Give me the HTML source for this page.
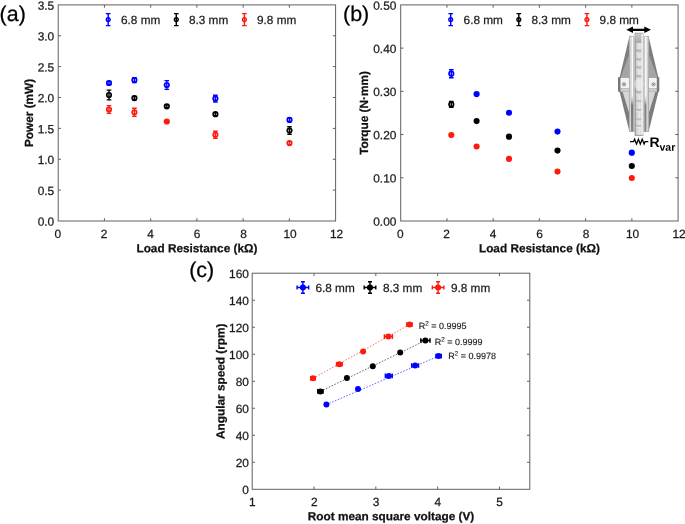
<!DOCTYPE html>
<html><head><meta charset="utf-8"><title>figure</title>
<style>
html,body{margin:0;padding:0;background:#fff;}
svg{display:block;will-change:transform;font-family:"Liberation Sans",Arial,Helvetica,sans-serif;}
</style></head><body>
<svg width="685" height="524" viewBox="0 0 685 524">
<rect width="685" height="524" fill="#ffffff"/>
<rect x="58.2" y="4.9" width="277.40000000000003" height="216.1" fill="none" stroke="#606060" stroke-width="1.0"/>
<path d="M104.43 221.0v-2.8M104.43 4.9v2.8M150.67 221.0v-2.8M150.67 4.9v2.8M196.90 221.0v-2.8M196.90 4.9v2.8M243.13 221.0v-2.8M243.13 4.9v2.8M289.37 221.0v-2.8M289.37 4.9v2.8M58.2 35.77h2.8M335.6 35.77h-2.8M58.2 66.64h2.8M335.6 66.64h-2.8M58.2 97.51h2.8M335.6 97.51h-2.8M58.2 128.39h2.8M335.6 128.39h-2.8M58.2 159.26h2.8M335.6 159.26h-2.8M58.2 190.13h2.8M335.6 190.13h-2.8" stroke="#606060" stroke-width="1.0" fill="none"/>
<text x="54.20" y="9.70" transform="rotate(0.03 54.20 9.70)" font-size="11.9" text-anchor="end" font-weight="normal" fill="#1c1c1c" stroke="#1c1c1c" stroke-width="0.25" >3.5</text>
<text x="54.20" y="40.57" transform="rotate(0.03 54.20 40.57)" font-size="11.9" text-anchor="end" font-weight="normal" fill="#1c1c1c" stroke="#1c1c1c" stroke-width="0.25" >3.0</text>
<text x="54.20" y="71.44" transform="rotate(0.03 54.20 71.44)" font-size="11.9" text-anchor="end" font-weight="normal" fill="#1c1c1c" stroke="#1c1c1c" stroke-width="0.25" >2.5</text>
<text x="54.20" y="102.31" transform="rotate(0.03 54.20 102.31)" font-size="11.9" text-anchor="end" font-weight="normal" fill="#1c1c1c" stroke="#1c1c1c" stroke-width="0.25" >2.0</text>
<text x="54.20" y="133.19" transform="rotate(0.03 54.20 133.19)" font-size="11.9" text-anchor="end" font-weight="normal" fill="#1c1c1c" stroke="#1c1c1c" stroke-width="0.25" >1.5</text>
<text x="54.20" y="164.06" transform="rotate(0.03 54.20 164.06)" font-size="11.9" text-anchor="end" font-weight="normal" fill="#1c1c1c" stroke="#1c1c1c" stroke-width="0.25" >1.0</text>
<text x="54.20" y="194.93" transform="rotate(0.03 54.20 194.93)" font-size="11.9" text-anchor="end" font-weight="normal" fill="#1c1c1c" stroke="#1c1c1c" stroke-width="0.25" >0.5</text>
<text x="54.20" y="225.80" transform="rotate(0.03 54.20 225.80)" font-size="11.9" text-anchor="end" font-weight="normal" fill="#1c1c1c" stroke="#1c1c1c" stroke-width="0.25" >0.0</text>
<text x="57.70" y="238.00" transform="rotate(0.03 57.70 238.00)" font-size="11.9" text-anchor="middle" font-weight="normal" fill="#1c1c1c" stroke="#1c1c1c" stroke-width="0.25" >0</text>
<text x="104.17" y="238.00" transform="rotate(0.03 104.17 238.00)" font-size="11.9" text-anchor="middle" font-weight="normal" fill="#1c1c1c" stroke="#1c1c1c" stroke-width="0.25" >2</text>
<text x="150.65" y="238.00" transform="rotate(0.03 150.65 238.00)" font-size="11.9" text-anchor="middle" font-weight="normal" fill="#1c1c1c" stroke="#1c1c1c" stroke-width="0.25" >4</text>
<text x="197.12" y="238.00" transform="rotate(0.03 197.12 238.00)" font-size="11.9" text-anchor="middle" font-weight="normal" fill="#1c1c1c" stroke="#1c1c1c" stroke-width="0.25" >6</text>
<text x="243.59" y="238.00" transform="rotate(0.03 243.59 238.00)" font-size="11.9" text-anchor="middle" font-weight="normal" fill="#1c1c1c" stroke="#1c1c1c" stroke-width="0.25" >8</text>
<text x="290.07" y="238.00" transform="rotate(0.03 290.07 238.00)" font-size="11.9" text-anchor="middle" font-weight="normal" fill="#1c1c1c" stroke="#1c1c1c" stroke-width="0.25" >10</text>
<text x="336.54" y="238.00" transform="rotate(0.03 336.54 238.00)" font-size="11.9" text-anchor="middle" font-weight="normal" fill="#1c1c1c" stroke="#1c1c1c" stroke-width="0.25" >12</text>
<text x="196.90" y="252.30" transform="rotate(0.03 196.90 252.30)" font-size="11.8" text-anchor="middle" font-weight="bold" fill="#111" stroke="#111" stroke-width="0.25" >Load Resistance (kΩ)</text>
<text transform="translate(33.00 112.95) rotate(-89.97)" font-size="11.8" text-anchor="middle" font-weight="bold" fill="#111" stroke="#111" stroke-width="0.25">Power (mW)</text>
<text x="-0.40" y="21.00" transform="rotate(0.03 -0.40 21.00)" font-size="21.4" text-anchor="start" font-weight="normal" fill="#000" stroke="#000" stroke-width="0.25" >(a)</text>
<path d="M108.20 13.60V25.60M105.90 13.60h4.6M105.90 25.60h4.6" stroke="#0000ff" stroke-width="1.45" fill="none"/>
<circle cx="108.20" cy="19.60" r="1.90" fill="none" stroke="#0000ff" stroke-width="1.4"/>
<text x="121.00" y="24.00" transform="rotate(0.03 121.00 24.00)" font-size="11.8" text-anchor="start" font-weight="normal" fill="#1c1c1c" stroke="#1c1c1c" stroke-width="0.25" >6.8 mm</text>
<path d="M176.30 13.60V25.60M174.00 13.60h4.6M174.00 25.60h4.6" stroke="#000000" stroke-width="1.45" fill="none"/>
<circle cx="176.30" cy="19.60" r="1.90" fill="none" stroke="#000000" stroke-width="1.4"/>
<text x="188.90" y="24.00" transform="rotate(0.03 188.90 24.00)" font-size="11.8" text-anchor="start" font-weight="normal" fill="#1c1c1c" stroke="#1c1c1c" stroke-width="0.25" >8.3 mm</text>
<path d="M244.40 13.60V25.60M242.10 13.60h4.6M242.10 25.60h4.6" stroke="#ff1a10" stroke-width="1.45" fill="none"/>
<circle cx="244.40" cy="19.60" r="1.90" fill="none" stroke="#ff1a10" stroke-width="1.4"/>
<text x="257.00" y="24.00" transform="rotate(0.03 257.00 24.00)" font-size="11.8" text-anchor="start" font-weight="normal" fill="#1c1c1c" stroke="#1c1c1c" stroke-width="0.25" >9.8 mm</text>
<path d="M109.00 81.50V84.50M106.70 81.50h4.6M106.70 84.50h4.6" stroke="#0000ff" stroke-width="1.4" fill="none"/>
<circle cx="109.00" cy="83.00" r="2.25" fill="none" stroke="#0000ff" stroke-width="1.7"/>
<path d="M134.40 77.60V82.60M132.10 77.60h4.6M132.10 82.60h4.6" stroke="#0000ff" stroke-width="1.4" fill="none"/>
<circle cx="134.40" cy="80.10" r="2.25" fill="none" stroke="#0000ff" stroke-width="1.7"/>
<path d="M166.80 80.60V89.40M164.50 80.60h4.6M164.50 89.40h4.6" stroke="#0000ff" stroke-width="1.4" fill="none"/>
<circle cx="166.80" cy="85.00" r="2.25" fill="none" stroke="#0000ff" stroke-width="1.7"/>
<path d="M215.40 95.20V102.00M213.10 95.20h4.6M213.10 102.00h4.6" stroke="#0000ff" stroke-width="1.4" fill="none"/>
<circle cx="215.40" cy="98.60" r="2.25" fill="none" stroke="#0000ff" stroke-width="1.7"/>
<path d="M289.50 118.30V121.50M287.20 118.30h4.6M287.20 121.50h4.6" stroke="#0000ff" stroke-width="1.4" fill="none"/>
<circle cx="289.50" cy="119.90" r="2.25" fill="none" stroke="#0000ff" stroke-width="1.7"/>
<path d="M109.00 90.10V99.90M106.70 90.10h4.6M106.70 99.90h4.6" stroke="#000000" stroke-width="1.4" fill="none"/>
<circle cx="109.00" cy="95.00" r="2.25" fill="none" stroke="#000000" stroke-width="1.7"/>
<path d="M134.40 96.50V99.70M132.10 96.50h4.6M132.10 99.70h4.6" stroke="#000000" stroke-width="1.4" fill="none"/>
<circle cx="134.40" cy="98.10" r="2.25" fill="none" stroke="#000000" stroke-width="1.7"/>
<path d="M166.80 104.80V107.80M164.50 104.80h4.6M164.50 107.80h4.6" stroke="#000000" stroke-width="1.4" fill="none"/>
<circle cx="166.80" cy="106.30" r="2.25" fill="none" stroke="#000000" stroke-width="1.7"/>
<path d="M215.40 112.70V115.70M213.10 112.70h4.6M213.10 115.70h4.6" stroke="#000000" stroke-width="1.4" fill="none"/>
<circle cx="215.40" cy="114.20" r="2.25" fill="none" stroke="#000000" stroke-width="1.7"/>
<path d="M289.50 126.80V134.40M287.20 126.80h4.6M287.20 134.40h4.6" stroke="#000000" stroke-width="1.4" fill="none"/>
<circle cx="289.50" cy="130.60" r="2.25" fill="none" stroke="#000000" stroke-width="1.7"/>
<path d="M109.00 105.60V113.40M106.70 105.60h4.6M106.70 113.40h4.6" stroke="#ff1a10" stroke-width="1.4" fill="none"/>
<circle cx="109.00" cy="109.50" r="2.25" fill="none" stroke="#ff1a10" stroke-width="1.7"/>
<path d="M134.40 108.20V116.40M132.10 108.20h4.6M132.10 116.40h4.6" stroke="#ff1a10" stroke-width="1.4" fill="none"/>
<circle cx="134.40" cy="112.30" r="2.25" fill="none" stroke="#ff1a10" stroke-width="1.7"/>
<circle cx="166.80" cy="121.50" r="3.10" fill="#ff1a10"/>
<path d="M215.40 131.20V138.40M213.10 131.20h4.6M213.10 138.40h4.6" stroke="#ff1a10" stroke-width="1.4" fill="none"/>
<circle cx="215.40" cy="134.80" r="2.25" fill="none" stroke="#ff1a10" stroke-width="1.7"/>
<path d="M289.50 141.60V144.60M287.20 141.60h4.6M287.20 144.60h4.6" stroke="#ff1a10" stroke-width="1.4" fill="none"/>
<circle cx="289.50" cy="143.10" r="2.25" fill="none" stroke="#ff1a10" stroke-width="1.7"/>
<rect x="400.7" y="4.9" width="277.40000000000003" height="216.1" fill="none" stroke="#606060" stroke-width="1.0"/>
<path d="M446.93 221.0v-2.8M446.93 4.9v2.8M493.17 221.0v-2.8M493.17 4.9v2.8M539.40 221.0v-2.8M539.40 4.9v2.8M585.63 221.0v-2.8M585.63 4.9v2.8M631.87 221.0v-2.8M631.87 4.9v2.8M400.7 48.12h2.8M678.1 48.12h-2.8M400.7 91.34h2.8M678.1 91.34h-2.8M400.7 134.56h2.8M678.1 134.56h-2.8M400.7 177.78h2.8M678.1 177.78h-2.8" stroke="#606060" stroke-width="1.0" fill="none"/>
<text x="396.40" y="9.70" transform="rotate(0.03 396.40 9.70)" font-size="11.9" text-anchor="end" font-weight="normal" fill="#1c1c1c" stroke="#1c1c1c" stroke-width="0.25" >0.50</text>
<text x="396.40" y="52.92" transform="rotate(0.03 396.40 52.92)" font-size="11.9" text-anchor="end" font-weight="normal" fill="#1c1c1c" stroke="#1c1c1c" stroke-width="0.25" >0.40</text>
<text x="396.40" y="96.14" transform="rotate(0.03 396.40 96.14)" font-size="11.9" text-anchor="end" font-weight="normal" fill="#1c1c1c" stroke="#1c1c1c" stroke-width="0.25" >0.30</text>
<text x="396.40" y="139.36" transform="rotate(0.03 396.40 139.36)" font-size="11.9" text-anchor="end" font-weight="normal" fill="#1c1c1c" stroke="#1c1c1c" stroke-width="0.25" >0.20</text>
<text x="396.40" y="182.58" transform="rotate(0.03 396.40 182.58)" font-size="11.9" text-anchor="end" font-weight="normal" fill="#1c1c1c" stroke="#1c1c1c" stroke-width="0.25" >0.10</text>
<text x="396.40" y="225.80" transform="rotate(0.03 396.40 225.80)" font-size="11.9" text-anchor="end" font-weight="normal" fill="#1c1c1c" stroke="#1c1c1c" stroke-width="0.25" >0.00</text>
<text x="400.20" y="238.00" transform="rotate(0.03 400.20 238.00)" font-size="11.9" text-anchor="middle" font-weight="normal" fill="#1c1c1c" stroke="#1c1c1c" stroke-width="0.25" >0</text>
<text x="446.67" y="238.00" transform="rotate(0.03 446.67 238.00)" font-size="11.9" text-anchor="middle" font-weight="normal" fill="#1c1c1c" stroke="#1c1c1c" stroke-width="0.25" >2</text>
<text x="493.15" y="238.00" transform="rotate(0.03 493.15 238.00)" font-size="11.9" text-anchor="middle" font-weight="normal" fill="#1c1c1c" stroke="#1c1c1c" stroke-width="0.25" >4</text>
<text x="539.62" y="238.00" transform="rotate(0.03 539.62 238.00)" font-size="11.9" text-anchor="middle" font-weight="normal" fill="#1c1c1c" stroke="#1c1c1c" stroke-width="0.25" >6</text>
<text x="586.09" y="238.00" transform="rotate(0.03 586.09 238.00)" font-size="11.9" text-anchor="middle" font-weight="normal" fill="#1c1c1c" stroke="#1c1c1c" stroke-width="0.25" >8</text>
<text x="632.57" y="238.00" transform="rotate(0.03 632.57 238.00)" font-size="11.9" text-anchor="middle" font-weight="normal" fill="#1c1c1c" stroke="#1c1c1c" stroke-width="0.25" >10</text>
<text x="679.04" y="238.00" transform="rotate(0.03 679.04 238.00)" font-size="11.9" text-anchor="middle" font-weight="normal" fill="#1c1c1c" stroke="#1c1c1c" stroke-width="0.25" >12</text>
<text x="539.40" y="252.30" transform="rotate(0.03 539.40 252.30)" font-size="11.8" text-anchor="middle" font-weight="bold" fill="#111" stroke="#111" stroke-width="0.25" >Load Resistance (kΩ)</text>
<text transform="translate(368.00 112.95) rotate(-89.97)" font-size="11.8" text-anchor="middle" font-weight="bold" fill="#111" stroke="#111" stroke-width="0.25">Torque (N·mm)</text>
<text x="343.10" y="21.00" transform="rotate(0.03 343.10 21.00)" font-size="21.4" text-anchor="start" font-weight="normal" fill="#000" stroke="#000" stroke-width="0.25" >(b)</text>
<path d="M450.70 13.60V25.60M448.40 13.60h4.6M448.40 25.60h4.6" stroke="#0000ff" stroke-width="1.45" fill="none"/>
<circle cx="450.70" cy="19.60" r="1.90" fill="none" stroke="#0000ff" stroke-width="1.4"/>
<text x="463.60" y="24.00" transform="rotate(0.03 463.60 24.00)" font-size="11.8" text-anchor="start" font-weight="normal" fill="#1c1c1c" stroke="#1c1c1c" stroke-width="0.25" >6.8 mm</text>
<path d="M518.80 13.60V25.60M516.50 13.60h4.6M516.50 25.60h4.6" stroke="#000000" stroke-width="1.45" fill="none"/>
<circle cx="518.80" cy="19.60" r="1.90" fill="none" stroke="#000000" stroke-width="1.4"/>
<text x="531.50" y="24.00" transform="rotate(0.03 531.50 24.00)" font-size="11.8" text-anchor="start" font-weight="normal" fill="#1c1c1c" stroke="#1c1c1c" stroke-width="0.25" >8.3 mm</text>
<path d="M586.90 13.60V25.60M584.60 13.60h4.6M584.60 25.60h4.6" stroke="#ff1a10" stroke-width="1.45" fill="none"/>
<circle cx="586.90" cy="19.60" r="1.90" fill="none" stroke="#ff1a10" stroke-width="1.4"/>
<text x="599.60" y="24.00" transform="rotate(0.03 599.60 24.00)" font-size="11.8" text-anchor="start" font-weight="normal" fill="#1c1c1c" stroke="#1c1c1c" stroke-width="0.25" >9.8 mm</text>
<path d="M451.30 69.70V77.70M449.00 69.70h4.6M449.00 77.70h4.6" stroke="#0000ff" stroke-width="1.4" fill="none"/>
<circle cx="451.30" cy="73.70" r="2.25" fill="none" stroke="#0000ff" stroke-width="1.7"/>
<circle cx="476.60" cy="94.10" r="3.10" fill="#0000ff"/>
<circle cx="509.00" cy="112.70" r="3.05" fill="#0000ff"/>
<circle cx="557.50" cy="131.60" r="3.05" fill="#0000ff"/>
<circle cx="631.80" cy="152.70" r="3.10" fill="#0000ff"/>
<path d="M451.30 101.50V107.30M449.00 101.50h4.6M449.00 107.30h4.6" stroke="#000000" stroke-width="1.4" fill="none"/>
<circle cx="451.30" cy="104.40" r="2.25" fill="none" stroke="#000000" stroke-width="1.7"/>
<circle cx="476.60" cy="121.10" r="3.05" fill="#000000"/>
<circle cx="509.00" cy="136.70" r="3.10" fill="#000000"/>
<circle cx="557.50" cy="150.60" r="3.05" fill="#000000"/>
<circle cx="631.80" cy="166.00" r="3.05" fill="#000000"/>
<circle cx="451.30" cy="135.10" r="3.05" fill="#ff1a10"/>
<circle cx="476.60" cy="146.50" r="3.05" fill="#ff1a10"/>
<circle cx="509.00" cy="158.90" r="3.05" fill="#ff1a10"/>
<circle cx="557.50" cy="171.60" r="3.05" fill="#ff1a10"/>
<circle cx="631.80" cy="178.00" r="3.05" fill="#ff1a10"/>

<defs>
<linearGradient id="gcol" x1="0" x2="1" y1="0" y2="0">
<stop offset="0" stop-color="#a8a8a8"/><stop offset="0.18" stop-color="#d2d2d2"/><stop offset="0.6" stop-color="#e9e9e9"/><stop offset="0.8" stop-color="#cfcfcf"/><stop offset="0.86" stop-color="#ffffff"/><stop offset="1" stop-color="#f0f0f0"/>
</linearGradient>
<linearGradient id="gpl" x1="0" x2="1" y1="0" y2="0">
<stop offset="0" stop-color="#cfcfcf"/><stop offset="0.5" stop-color="#dedede"/><stop offset="0.58" stop-color="#fdfdfd"/><stop offset="1" stop-color="#f4f4f4"/>
</linearGradient>
<linearGradient id="gpr" x1="1" x2="0" y1="0" y2="0">
<stop offset="0" stop-color="#c9c9c9"/><stop offset="0.45" stop-color="#d8d8d8"/><stop offset="0.55" stop-color="#fdfdfd"/><stop offset="1" stop-color="#f4f4f4"/>
</linearGradient>
<linearGradient id="gdk" x1="0" x2="0" y1="0" y2="1">
<stop offset="0" stop-color="#d0d0d0" stop-opacity="0"/><stop offset="0.3" stop-color="#7c7c7c"/><stop offset="1" stop-color="#858585"/>
</linearGradient>
<linearGradient id="gtop" x1="0" x2="0" y1="0" y2="1">
<stop offset="0" stop-color="#c9c9c9"/><stop offset="1" stop-color="#a9a9a9"/>
</linearGradient>
<linearGradient id="gtooth" x1="0" x2="0" y1="0" y2="1">
<stop offset="0" stop-color="#9d9d9d"/><stop offset="0.5" stop-color="#c4c4c4"/><stop offset="1" stop-color="#ececec"/>
</linearGradient>
</defs>
<g>
<!-- outer arms -->
<polygon points="629.4,36.4 629.4,77.4 619.6,77.4" fill="#7f7f7f"/>
<polygon points="629.4,54 629.4,77.4 620.6,77.4" fill="#a4a4a4"/>
<polygon points="648.6,36.4 648.6,77.4 658.4,77.4" fill="#7f7f7f"/>
<polygon points="648.6,54 648.6,77.4 657.4,77.4" fill="#a4a4a4"/>
<polygon points="619.6,91.8 629.4,91.8 629.4,131.8" fill="#7c7c7c"/>
<polygon points="622.6,91.8 629.4,91.8 629.4,114" fill="#d6d6d6"/>
<polygon points="658.4,91.8 648.6,91.8 648.6,131.8" fill="#7c7c7c"/>
<polygon points="655.4,91.8 648.6,91.8 648.6,114" fill="#d6d6d6"/>
<!-- middle block -->
<rect x="618.0" y="77.0" width="41.3" height="15.0" rx="1.2" fill="#787878"/>
<rect x="620.5" y="77.6" width="36.3" height="10.6" fill="#f3f3f3"/>
<rect x="620.5" y="88.2" width="36.3" height="3.6" fill="#cdcdcd"/>
<circle cx="624.0" cy="84.3" r="1.6" fill="#dcdcdc" stroke="#707070" stroke-width="0.7"/>
<circle cx="624.0" cy="84.3" r="0.7" fill="#8a8a8a"/>
<circle cx="653.5" cy="84.3" r="1.6" fill="#dcdcdc" stroke="#707070" stroke-width="0.7"/>
<circle cx="653.5" cy="84.3" r="0.7" fill="#8a8a8a"/>
<!-- gaps between plates and column -->
<rect x="633.6" y="37.5" width="1.7" height="94" fill="#e2e2e2"/>
<rect x="642.7" y="37.5" width="1.7" height="94" fill="#e8e8e8"/>
<!-- inner plates -->
<rect x="629.3" y="36.2" width="4.5" height="95.5" fill="url(#gpl)" stroke="#9c9c9c" stroke-width="0.6"/>
<rect x="644.2" y="36.2" width="4.5" height="95.5" fill="url(#gpr)" stroke="#9c9c9c" stroke-width="0.6"/>
<rect x="631.0" y="94" width="2.4" height="37.5" fill="url(#gdk)"/>
<rect x="644.5" y="94" width="1.9" height="37.5" fill="url(#gdk)"/>
<!-- centre column -->
<rect x="635.1" y="33.2" width="7.8" height="102.1" fill="url(#gcol)" stroke="#858585" stroke-width="0.8"/>
<rect x="635.5" y="33.6" width="6.2" height="9.4" fill="url(#gtop)"/><rect x="635.9" y="49.6" width="5.6" height="4.6" fill="url(#gtooth)" opacity="0.85"/><rect x="635.9" y="58.4" width="5.6" height="3.8" fill="url(#gtooth)" opacity="0.85"/><rect x="635.9" y="66.4" width="5.6" height="4.0" fill="url(#gtooth)" opacity="0.85"/><rect x="635.9" y="75.2" width="5.6" height="4.0" fill="url(#gtooth)" opacity="0.85"/><rect x="635.9" y="91.2" width="5.6" height="4.0" fill="url(#gtooth)" opacity="0.85"/><rect x="635.9" y="100.4" width="5.6" height="2.8" fill="url(#gtooth)" opacity="0.85"/><rect x="635.9" y="109.0" width="5.6" height="2.8" fill="url(#gtooth)" opacity="0.85"/><rect x="635.9" y="118.6" width="5.6" height="2.6" fill="url(#gtooth)" opacity="0.85"/><rect x="635.9" y="125.2" width="5.6" height="2.4" fill="url(#gtooth)" opacity="0.85"/>
<rect x="641.6" y="33.6" width="1.1" height="101.4" fill="#fafafa"/>
<ellipse cx="639" cy="84.3" rx="4.6" ry="5.6" fill="#ececec" opacity="0.6"/>
</g>
<!-- arrow -->
<path d="M626.3 29.8l6.7 -3.2v2.1h11.3v-2.1l6.7 3.2l-6.7 3.2v-2.1h-11.3v2.1z" fill="#000"/>
<!-- resistor -->
<path d="M630.0 141.6h3.6l1.0 -2.4l1.9 4.8l1.9 -4.8l1.9 4.8l1.9 -4.8l1.9 4.8l1.0 -2.4h3.2" fill="none" stroke="#000" stroke-width="1.25" stroke-linejoin="miter"/>
<text x="649.4" y="147.0" transform="rotate(0.03 649 147)" font-size="14" font-weight="bold" fill="#000">R<tspan dy="3.7" font-size="10.5">var</tspan></text>

<rect x="252.2" y="273.2" width="277.59999999999997" height="216.10000000000002" fill="none" stroke="#606060" stroke-width="1.0"/>
<path d="M314.02 489.3v-2.8M314.02 273.2v2.8M375.84 489.3v-2.8M375.84 273.2v2.8M437.66 489.3v-2.8M437.66 273.2v2.8M499.48 489.3v-2.8M499.48 273.2v2.8M252.2 300.21h2.8M529.8 300.21h-2.8M252.2 327.23h2.8M529.8 327.23h-2.8M252.2 354.24h2.8M529.8 354.24h-2.8M252.2 381.25h2.8M529.8 381.25h-2.8M252.2 408.26h2.8M529.8 408.26h-2.8M252.2 435.27h2.8M529.8 435.27h-2.8M252.2 462.29h2.8M529.8 462.29h-2.8" stroke="#606060" stroke-width="1.0" fill="none"/>
<text x="248.90" y="278.00" transform="rotate(0.03 248.90 278.00)" font-size="11.9" text-anchor="end" font-weight="normal" fill="#1c1c1c" stroke="#1c1c1c" stroke-width="0.25" >160</text>
<text x="248.90" y="305.01" transform="rotate(0.03 248.90 305.01)" font-size="11.9" text-anchor="end" font-weight="normal" fill="#1c1c1c" stroke="#1c1c1c" stroke-width="0.25" >140</text>
<text x="248.90" y="332.03" transform="rotate(0.03 248.90 332.03)" font-size="11.9" text-anchor="end" font-weight="normal" fill="#1c1c1c" stroke="#1c1c1c" stroke-width="0.25" >120</text>
<text x="248.90" y="359.04" transform="rotate(0.03 248.90 359.04)" font-size="11.9" text-anchor="end" font-weight="normal" fill="#1c1c1c" stroke="#1c1c1c" stroke-width="0.25" >100</text>
<text x="248.90" y="386.05" transform="rotate(0.03 248.90 386.05)" font-size="11.9" text-anchor="end" font-weight="normal" fill="#1c1c1c" stroke="#1c1c1c" stroke-width="0.25" >80</text>
<text x="248.90" y="413.06" transform="rotate(0.03 248.90 413.06)" font-size="11.9" text-anchor="end" font-weight="normal" fill="#1c1c1c" stroke="#1c1c1c" stroke-width="0.25" >60</text>
<text x="248.90" y="440.07" transform="rotate(0.03 248.90 440.07)" font-size="11.9" text-anchor="end" font-weight="normal" fill="#1c1c1c" stroke="#1c1c1c" stroke-width="0.25" >40</text>
<text x="248.90" y="467.09" transform="rotate(0.03 248.90 467.09)" font-size="11.9" text-anchor="end" font-weight="normal" fill="#1c1c1c" stroke="#1c1c1c" stroke-width="0.25" >20</text>
<text x="248.90" y="494.10" transform="rotate(0.03 248.90 494.10)" font-size="11.9" text-anchor="end" font-weight="normal" fill="#1c1c1c" stroke="#1c1c1c" stroke-width="0.25" >0</text>
<text x="252.40" y="506.00" transform="rotate(0.03 252.40 506.00)" font-size="11.9" text-anchor="middle" font-weight="normal" fill="#1c1c1c" stroke="#1c1c1c" stroke-width="0.25" >1</text>
<text x="314.22" y="506.00" transform="rotate(0.03 314.22 506.00)" font-size="11.9" text-anchor="middle" font-weight="normal" fill="#1c1c1c" stroke="#1c1c1c" stroke-width="0.25" >2</text>
<text x="376.04" y="506.00" transform="rotate(0.03 376.04 506.00)" font-size="11.9" text-anchor="middle" font-weight="normal" fill="#1c1c1c" stroke="#1c1c1c" stroke-width="0.25" >3</text>
<text x="437.86" y="506.00" transform="rotate(0.03 437.86 506.00)" font-size="11.9" text-anchor="middle" font-weight="normal" fill="#1c1c1c" stroke="#1c1c1c" stroke-width="0.25" >4</text>
<text x="499.68" y="506.00" transform="rotate(0.03 499.68 506.00)" font-size="11.9" text-anchor="middle" font-weight="normal" fill="#1c1c1c" stroke="#1c1c1c" stroke-width="0.25" >5</text>
<text x="391.00" y="520.30" transform="rotate(0.03 391.00 520.30)" font-size="11.8" text-anchor="middle" font-weight="bold" fill="#111" stroke="#111" stroke-width="0.25" >Root mean square voltage (V)</text>
<text transform="translate(224.60 381.25) rotate(-89.97)" font-size="11.8" text-anchor="middle" font-weight="bold" fill="#111" stroke="#111" stroke-width="0.25">Angular speed (rpm)</text>
<text x="189.20" y="277.00" transform="rotate(0.03 189.20 277.00)" font-size="21.4" text-anchor="start" font-weight="normal" fill="#000" stroke="#000" stroke-width="0.25" >(c)</text>
<path d="M302.90 281.70V293.30M300.90 281.70h4.0M300.90 293.30h4.0M297.10 287.50H308.70M297.10 285.50v4.0M308.70 285.50v4.0" stroke="#0000ff" stroke-width="1.4" fill="none"/>
<circle cx="302.90" cy="287.50" r="3.05" fill="#0000ff"/>
<text x="315.40" y="292.00" transform="rotate(0.03 315.40 292.00)" font-size="11.8" text-anchor="start" font-weight="normal" fill="#1c1c1c" stroke="#1c1c1c" stroke-width="0.25" >6.8 mm</text>
<path d="M370.00 281.70V293.30M368.00 281.70h4.0M368.00 293.30h4.0M364.20 287.50H375.80M364.20 285.50v4.0M375.80 285.50v4.0" stroke="#000000" stroke-width="1.4" fill="none"/>
<circle cx="370.00" cy="287.50" r="3.05" fill="#000000"/>
<text x="382.90" y="292.00" transform="rotate(0.03 382.90 292.00)" font-size="11.8" text-anchor="start" font-weight="normal" fill="#1c1c1c" stroke="#1c1c1c" stroke-width="0.25" >8.3 mm</text>
<path d="M438.10 281.70V293.30M436.10 281.70h4.0M436.10 293.30h4.0M432.30 287.50H443.90M432.30 285.50v4.0M443.90 285.50v4.0" stroke="#ff1a10" stroke-width="1.4" fill="none"/>
<circle cx="438.10" cy="287.50" r="3.05" fill="#ff1a10"/>
<text x="450.90" y="292.00" transform="rotate(0.03 450.90 292.00)" font-size="11.8" text-anchor="start" font-weight="normal" fill="#1c1c1c" stroke="#1c1c1c" stroke-width="0.25" >9.8 mm</text>
<line x1="313.0" y1="378.3" x2="409.5" y2="324.6" stroke="#ff1a10" stroke-width="0.75" stroke-dasharray="1.6 1.5" opacity="0.8"/>
<path d="M310.70 378.30H315.30M310.70 376.00v4.6M315.30 376.00v4.6" stroke="#ff1a10" stroke-width="1.5" fill="none"/>
<circle cx="313.00" cy="378.30" r="3.00" fill="#ff1a10"/>
<path d="M336.60 364.20H342.20M336.60 361.90v4.6M342.20 361.90v4.6" stroke="#ff1a10" stroke-width="1.5" fill="none"/>
<circle cx="339.40" cy="364.20" r="3.00" fill="#ff1a10"/>
<circle cx="363.10" cy="351.60" r="3.00" fill="#ff1a10"/>
<path d="M384.40 336.60H392.40M384.40 334.30v4.6M392.40 334.30v4.6" stroke="#ff1a10" stroke-width="1.5" fill="none"/>
<circle cx="388.40" cy="336.60" r="3.00" fill="#ff1a10"/>
<path d="M406.90 324.60H412.10M406.90 322.30v4.6M412.10 322.30v4.6" stroke="#ff1a10" stroke-width="1.5" fill="none"/>
<circle cx="409.50" cy="324.60" r="3.00" fill="#ff1a10"/>
<line x1="320.4" y1="391.4" x2="425.4" y2="340.5" stroke="#000000" stroke-width="0.75" stroke-dasharray="1.6 1.5" opacity="0.8"/>
<path d="M317.80 391.40H323.00M317.80 389.10v4.6M323.00 389.10v4.6" stroke="#000000" stroke-width="1.5" fill="none"/>
<circle cx="320.40" cy="391.40" r="3.00" fill="#000000"/>
<circle cx="346.90" cy="378.10" r="3.00" fill="#000000"/>
<circle cx="372.80" cy="366.20" r="3.00" fill="#000000"/>
<circle cx="400.20" cy="352.50" r="3.00" fill="#000000"/>
<path d="M420.80 340.50H430.00M420.80 338.20v4.6M430.00 338.20v4.6" stroke="#000000" stroke-width="1.5" fill="none"/>
<circle cx="425.40" cy="340.50" r="3.00" fill="#000000"/>
<line x1="326.4" y1="404.6" x2="438.6" y2="356.1" stroke="#0000ff" stroke-width="0.75" stroke-dasharray="1.6 1.5" opacity="0.8"/>
<circle cx="326.40" cy="404.60" r="3.00" fill="#0000ff"/>
<circle cx="358.00" cy="389.00" r="3.00" fill="#0000ff"/>
<path d="M385.40 375.90H392.20M385.40 373.60v4.6M392.20 373.60v4.6" stroke="#0000ff" stroke-width="1.5" fill="none"/>
<circle cx="388.80" cy="375.90" r="3.00" fill="#0000ff"/>
<path d="M411.70 365.50H418.50M411.70 363.20v4.6M418.50 363.20v4.6" stroke="#0000ff" stroke-width="1.5" fill="none"/>
<circle cx="415.10" cy="365.50" r="3.00" fill="#0000ff"/>
<path d="M436.00 356.10H441.20M436.00 353.80v4.6M441.20 353.80v4.6" stroke="#0000ff" stroke-width="1.5" fill="none"/>
<circle cx="438.60" cy="356.10" r="3.00" fill="#0000ff"/>
<text x="418.8" y="329.0" transform="rotate(0.03 418.8 329.0)" font-size="9" fill="#1c1c1c" stroke="#1c1c1c" stroke-width="0.15">R<tspan dy="-3.6" font-size="6.3">2</tspan><tspan dy="3.6"> = 0.9995</tspan></text>
<text x="434.8" y="345.0" transform="rotate(0.03 434.8 345.0)" font-size="9" fill="#1c1c1c" stroke="#1c1c1c" stroke-width="0.15">R<tspan dy="-3.6" font-size="6.3">2</tspan><tspan dy="3.6"> = 0.9999</tspan></text>
<text x="448.2" y="359.0" transform="rotate(0.03 448.2 359.0)" font-size="9" fill="#1c1c1c" stroke="#1c1c1c" stroke-width="0.15">R<tspan dy="-3.6" font-size="6.3">2</tspan><tspan dy="3.6"> = 0.9978</tspan></text>
</svg>
</body></html>
